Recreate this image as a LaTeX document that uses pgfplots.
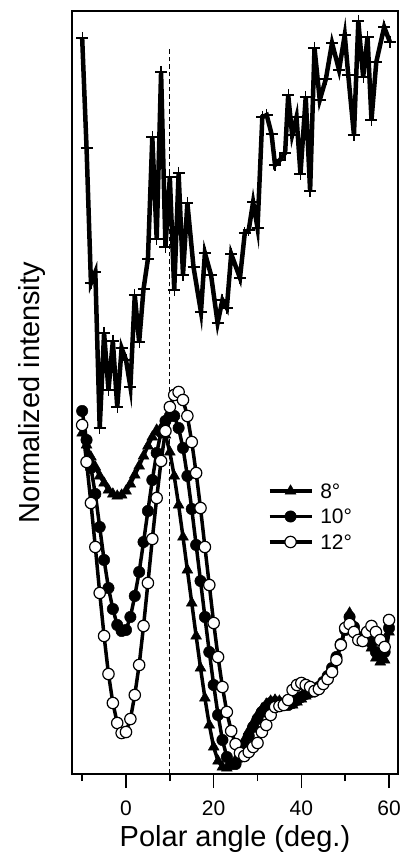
\documentclass[border=0pt]{standalone}
\usepackage{fontspec}
\setmainfont{Liberation Sans}
\usepackage{pgfplots}
\usepackage{pgfplotstable}
\pgfplotsset{compat=1.18}

\pgfplotstableread{
x y
-10 736
-9 626
-8 491
-7 502
-6 346
-5 441
-4 384
-3 433
-2 367
-1 426
0 414
1 387
2 479
3 432
4 485
5 515
6 637
7 535
8 702
9 527
10 597
11 484
12 601
13 499
14 571
15.4 507
17.1 462
18.0 521
19.4 499
20.9 451
22.0 474
23.0 466
24.0 520
26.0 496
27.1 541
28.0 544
29.0 572
30.0 546
31.1 657
32.1 659
33.2 640
34.0 609
35.1 614
36.3 621
37.0 679
37.9 639
38.9 657
39.8 600
41.0 677
42.0 583
43.0 726
44.2 674
45.6 695
47.0 731
48.6 704
49.9 739
50.7 699
52.0 639
53.0 753
54.1 697
55.1 737
56.0 654
57.1 712
58.9 747
60.2 732
}\toptable

\pgfplotstableread{
x y
-10 341
-9 329
-8 317
-7 307
-6 298
-5 291
-4 284
-3 280
-2 278
-1 279
0 283
1 290
2 299
3 308
4 318
5 328
6 337
7 344
8 346
9 339
10 322
11 298
12 269
13 237
14 204
15 171
16 138
17 106
18 76
19 49
20 27
21 13
22 7
23 6
24 8
25 14
26 24
27 34
28 43
29 51
30 59
31 65
32 70
33 73
34 74
35 73
36 71
37 69
38 69
39 72
40 75
41 78
42 80
43 83
44 87
45 92
46 98
47 106
48 116
49 129
50 146
51 161
52 149
53 137
54 134
55 136
56 126
57 116
58 112
59 114
60 142
}\eighttable

\pgfplotstableread{
x y
-10 363
-9 334
-8 306
-7 280
-6 247
-5 214
-4 186
-3 165
-2 149
-1 143
0 144
1 157
2 178
3 202
4 232
5 263
6 294
7 321
8 342
9 353
10 358
11 358
12 346
13 326
14 298
15 265
16 229
17 193
18 157
19 122
20 89
21 59
22 34
23 17
24 10
25 10
26 17
27 28
28 38
29 47
30 55
31 62
32 67
33 71
34 72
35 71
36 70
37 69
38 71
39 74
40 77
41 80
42 82
43 84
44 87
45 92
46 98
47 106
48 117
49 130
50 144
51 157
52 147
53 137
54 136
55 139
56 131
57 122
58 119
59 122
60 146
}\tentable

\pgfplotstableread{
x y
-10 349
-9 312
-8 271
-7 227
-6 181
-5 138
-4 100
-3 71
-2 51
-1 41
0 42
1 55
2 79
3 109
4 148
5 191
6 235
7 276
8 313
9 343
10 367
11 379
12 382
13 374
14 358
15 332
16 301
17 266
18 227
19 189
20 151
21 117
22 87
23 62
24 43
25 30
26 21
27 18
28 22
29 27
30 31
31 42
32 49
33 59
34 67
35 68
36 69
37 74
38 84
39 89
40 91
41 89
42 87
43 83
44 85
45 90
46 95
47 102
48 114
49 129
50 146
51 150
52 142
53 134
54 133
55 142
56 148
57 142
58 134
59 127
60 154
}\twelvetable

\begin{document}
\begin{tikzpicture}
\path[use as bounding box] (0,0) rectangle (400bp,853bp);
\begin{axis}[
  at={(72bp,79bp)}, anchor=south west,
  scale only axis, width=326bp, height=763bp,
  xmin=-12.32, xmax=62.05, ymin=0, ymax=763,
  clip=false,
  axis line style={line width=1.6bp},
  xtick={0,20,40,60},
  minor xtick={-10,10,30,50},
  ytick=\empty,
  xtick pos=left,
  tick align=outside,
  major tick length=14bp,
  minor tick length=7bp,
  every tick/.style={black, line width=1.6bp},
  /pgf/number format/assume math mode=true,
  xticklabel style={font=\fontsize{21bp}{25bp}\selectfont, anchor=base, inner sep=0pt, yshift=-27bp},
  xlabel={Polar angle (deg.)},
  xlabel style={font=\fontsize{29bp}{33bp}\selectfont, at={(axis description cs:0.5,-0.0944)}, anchor=base, inner sep=0pt},
  ylabel={Normalized intensity},
  ylabel style={font=\fontsize{29bp}{33bp}\selectfont, at={(axis description cs:-0.0982,0.5)}, anchor=base, rotate=0, inner sep=0pt},
  legend style={draw=none, fill=none, inner sep=0pt, at={(axis description cs:0.60,0.381)}, anchor=north west,
    font=\fontsize{21bp}{25bp}\selectfont, nodes={inner sep=0pt, text height=15bp, text depth=0bp}, row sep=10.5bp, column sep=7bp},
  legend cell align=left,
  legend image code/.code={\draw[mark repeat=2,mark phase=2,#1] plot coordinates {(0bp,0bp) (21bp,0bp) (42bp,0bp)};},
]
\addplot[forget plot, black, line width=1.3bp, dash pattern=on 4.5bp off 3bp] coordinates {(10,0) (10,727)};
\addplot[forget plot, black, line width=4.5bp, mark=+, mark size=6bp, mark options={line width=1.3bp}] table {\toptable};
\addplot[black, line width=3.5bp, mark=triangle*, mark size=6.2bp, mark options={line width=0.5bp, fill=black}] table {\eighttable};
\addlegendentry{8°}
\addplot[black, line width=3.5bp, mark=*, mark size=5.7bp, mark options={line width=0.5bp, fill=black}] table {\tentable};
\addlegendentry{10°}
\addplot[black, line width=3.5bp, mark=*, mark size=5.7bp, mark options={line width=1.2bp, fill=white}] table {\twelvetable};
\addlegendentry{12°}
\end{axis}
\end{tikzpicture}
\end{document}
